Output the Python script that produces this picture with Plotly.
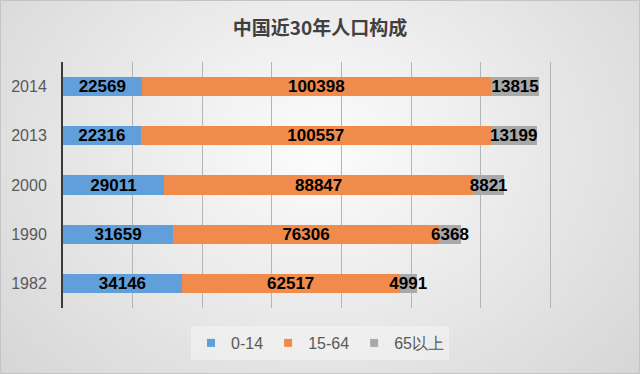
import zlib, struct, base64
import plotly.graph_objects as go

years = ["1982", "1990", "2000", "2013", "2014"]
age_0_14 = [34146, 31659, 29011, 22316, 22569]
age_15_64 = [62517, 76306, 88847, 100557, 100398]
age_65_up = [4991, 6368, 8821, 13199, 13815]
series_names = ["0-14", "15-64", "65以上"]
series_colors = ["#609fd9", "#f08b4c", "#a9a9a9"]
title_text = "中国近30年人口构成"

W, H = 640, 374
ml, mr, mt, mb = 63, 20, 62, 66
pw, ph = W - ml - mr, H - mt - mb

# radial gradient background as small PNG
GW, GH = 128, 75
rows = []
for j in range(GH):
    row = bytearray([0])
    for i in range(GW):
        dx = ((i + 0.5) / GW - 0.5) / 0.62
        dy = ((j + 0.5) / GH - 0.40) / 0.85
        r = (dx * dx + dy * dy) ** 0.5
        v = int(max(200, min(253, 253 - 36 * r)))
        row += bytes([v, v, v])
    rows.append(bytes(row))
raw = b"".join(rows)


def chunk(t, d):
    return struct.pack(">I", len(d)) + t + d + struct.pack(">I", zlib.crc32(t + d) & 0xffffffff)


png = (b"\x89PNG\r\n\x1a\n" + chunk(b"IHDR", struct.pack(">IIBBBBB", GW, GH, 8, 2, 0, 0, 0))
       + chunk(b"IDAT", zlib.compress(raw)) + chunk(b"IEND", b""))
uri = "data:image/png;base64," + base64.b64encode(png).decode()

fig = go.Figure()
label_font = dict(family="Liberation Sans", size=17, color="black", weight="bold")
for name, vals, col in zip(series_names, [age_0_14, age_15_64, age_65_up], series_colors):
    fig.add_trace(go.Bar(
        y=years, x=vals, name=name, orientation="h", showlegend=False,
        marker=dict(color=col, line=dict(width=0)),
        text=[str(v) for v in vals], textposition="inside",
        insidetextanchor="middle", textangle=0, constraintext="none",
        textfont=label_font, insidetextfont=label_font,
    ))
# legend entries with small square markers
for name, col in zip(series_names, series_colors):
    fig.add_trace(go.Scatter(x=[None], y=[None], mode="markers", name=name,
                             marker=dict(symbol="square", size=8, color=col)))

fx = lambda px: (px - ml) / pw
fy = lambda py: 1 - (py - mt) / ph

fig.update_layout(
    width=W, height=H,
    margin=dict(l=ml, r=mr, t=mt, b=mb),
    barmode="stack", bargap=0.61,
    paper_bgcolor="#e8e8e8", plot_bgcolor="rgba(0,0,0,0)",
    title=dict(text=title_text, x=0.5, xref="container", xanchor="center", y=1 - 28 / H, yanchor="middle",
               font=dict(family="Noto Sans CJK SC", size=19, color="#404040", weight="bold")),
    xaxis=dict(range=[0, 160000], dtick=20000, showticklabels=False, showgrid=True,
               gridcolor="#b4b4b4", gridwidth=1, zeroline=False, showline=False, fixedrange=True),
    yaxis=dict(type="category", categoryorder="array", categoryarray=years,
               showline=True, linecolor="#3a3a3a", linewidth=2, ticks="", showgrid=False,
               tickfont=dict(family="Liberation Sans", size=16, color="#595959"), ticklabelstandoff=11),
    legend=dict(orientation="h", x=fx(W / 2), xanchor="center", y=fy(343), yanchor="middle",
                traceorder="normal", itemwidth=30,
                bgcolor="rgba(255,255,255,0.35)", borderwidth=0,
                font=dict(family="Liberation Sans", size=16, color="#595959"),
                itemclick=False, itemdoubleclick=False),
    images=[dict(source=uri, xref="paper", yref="paper", x=fx(0), y=fy(0),
                 sizex=W / pw, sizey=H / ph, xanchor="left", yanchor="top",
                 sizing="stretch", layer="below")],
    shapes=[dict(type="rect", xref="paper", yref="paper", x0=fx(0.5), x1=fx(W - 0.5),
                 y0=fy(0.5), y1=fy(H - 0.5), line=dict(color="#c4c4c4", width=1))],
    showlegend=True,
)

fig.write_html("out.html", config={"displayModeBar": False},
               post_script="document.body.style.margin='0';")
